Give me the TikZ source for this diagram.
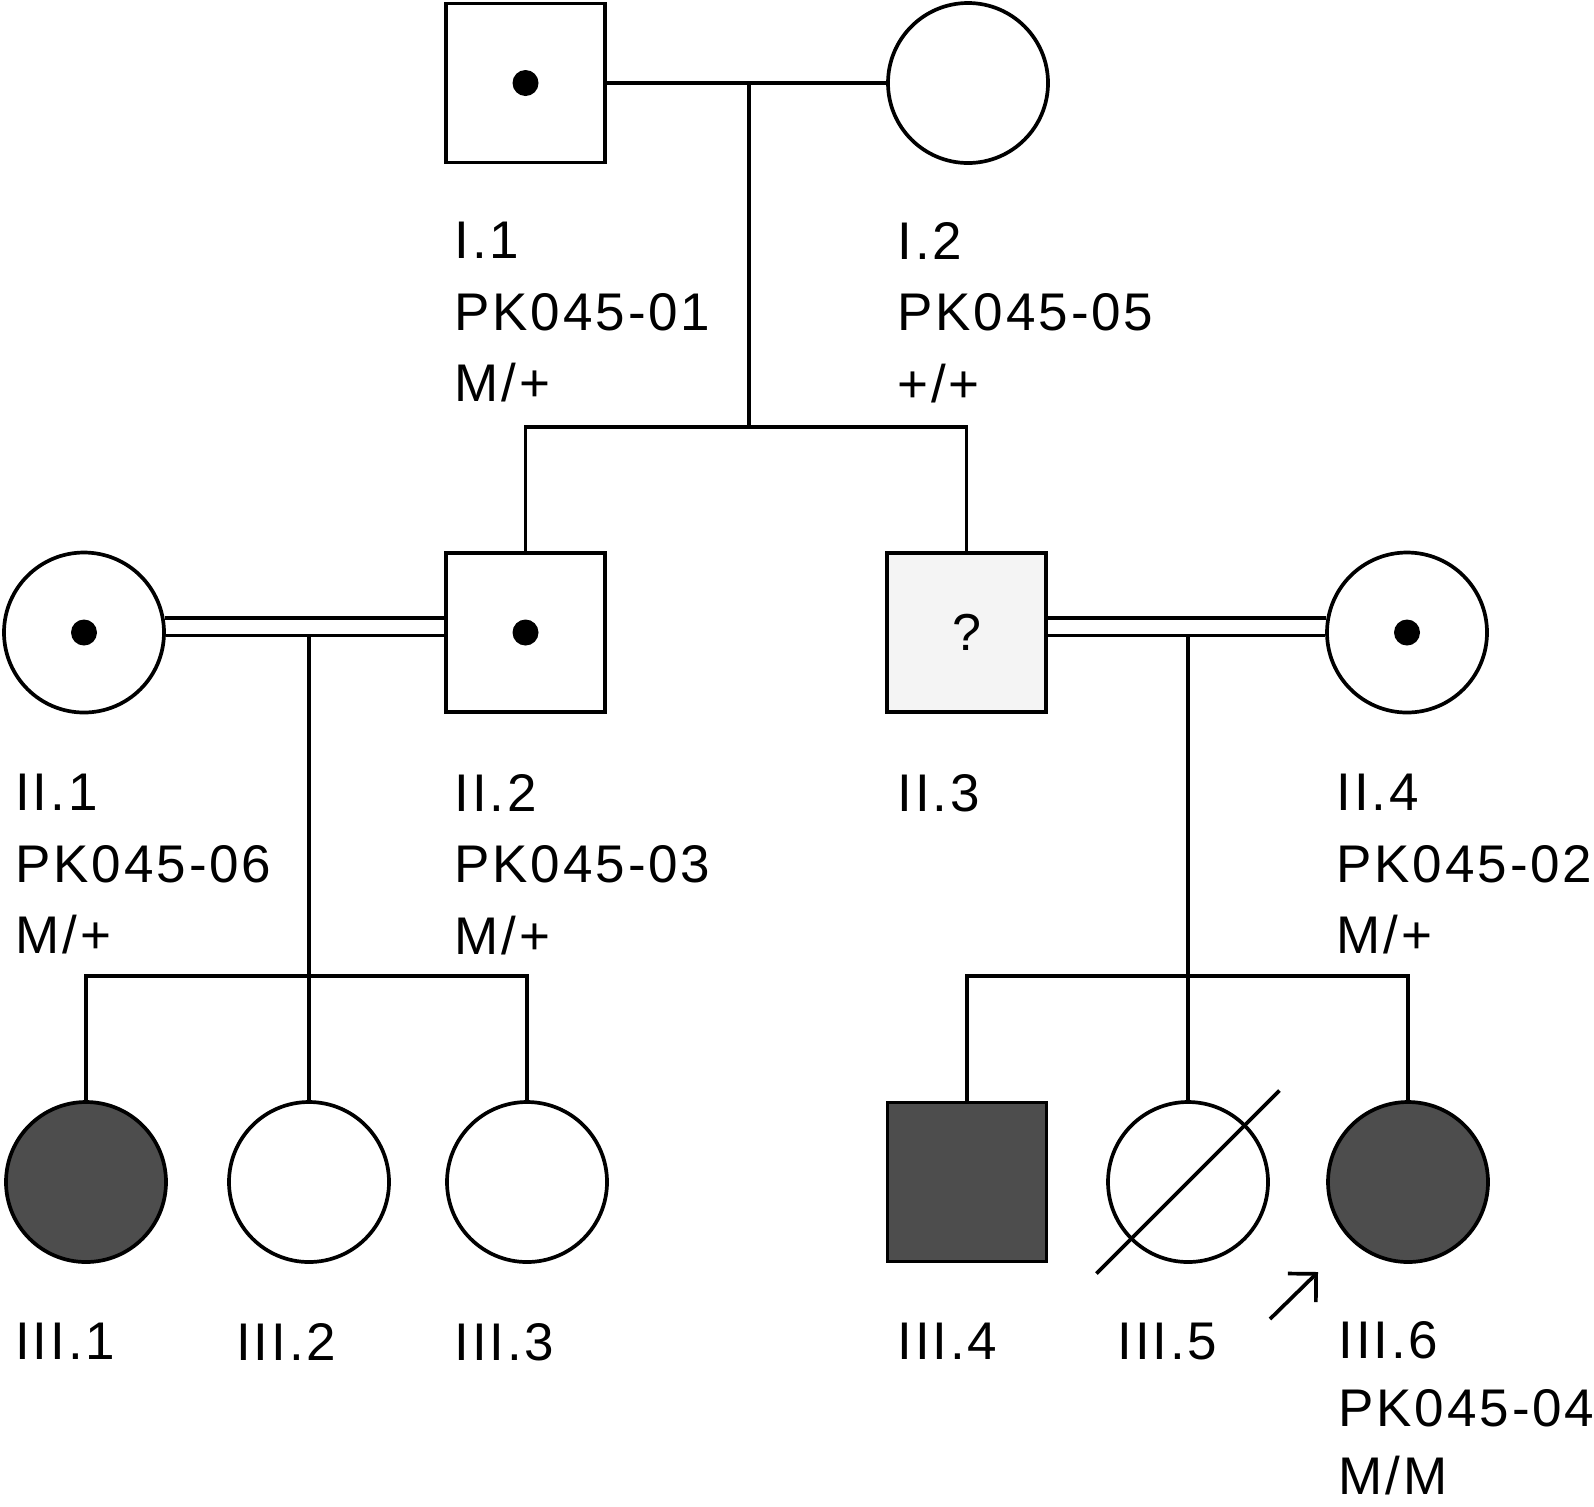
\documentclass[tikz,border=0pt]{standalone}
\usepackage{fontspec}
\setmainfont{Liberation Sans}[LetterSpace=5.5]
\usetikzlibrary{arrows.meta}
\definecolor{affected}{HTML}{4D4D4D}
\definecolor{unknownfill}{HTML}{F4F4F4}
\begin{document}
\begin{tikzpicture}[x=0.5pt,y=-0.5pt,
  conn/.style={line width=1.85pt},
  sq/.style={draw, line width=1.85pt, rectangle, minimum size=79.5pt, inner sep=0pt, fill=white},
  ci/.style={draw, line width=1.85pt, circle, minimum size=80pt, inner sep=0pt, fill=white},
  aff/.style={fill=affected},
  lab/.style={anchor=north west, inner sep=0pt, align=left, font=\fontsize{26.5}{35.75}\selectfont},
  qmark/.style={font=\fontsize{26}{30}\selectfont}]
\useasboundingbox (0,0) rectangle (1594,1506);

% generation I
\node[sq] (I1) at (525.5,83) {};
\node[ci] (I2) at (968,83) {};
% generation II
\node[ci] (II1) at (84,632.5) {};
\node[sq] (II2) at (525.5,632.5) {};
\node[sq, fill=unknownfill, qmark] (II3) at (966.5,632.5) {?};
\node[ci] (II4) at (1407,632.5) {};
% generation III
\node[ci, aff] (III1) at (86,1182) {};
\node[ci] (III2) at (309,1182) {};
\node[ci] (III3) at (527,1182) {};
\node[sq, aff] (III4) at (967,1182) {};
\node[ci] (III5) at (1188,1182) {};
\node[ci, aff] (III6) at (1408,1182) {};

% carrier dots
\foreach \n in {I1,II1,II2,II4}
  \fill (\n.center) circle[radius=6.5pt];

% junction coordinates
\coordinate (Im) at (749,83);
\coordinate (Isib) at (749,427);
\coordinate (Lm) at (309,634.5);
\coordinate (Lsib) at (309,976);
\coordinate (Rm) at (1188,634.5);
\coordinate (Rsib) at (1188,976);

% generation I connectors
\draw[conn] (I1.east) -- (I2.west);
\draw[conn] (Im) -- (Isib);
\draw[conn] (II2.north) |- (Isib) -| (II3.north);

% consanguineous unions
\draw[conn] (II1.10) -- (II2.west |- II1.10);
\draw[conn] (II1.-2) -- (II2.west |- II1.-2);
\draw[conn] (II3.east |- II4.170) -- (II4.170);
\draw[conn] (II3.east |- II4.182) -- (II4.182);

% descents
\draw[conn] (Lm) -- (III2.north);
\draw[conn] (III1.north) |- (Lsib) -| (III3.north);
\draw[conn] (Rm) -- (III5.north);
\draw[conn] (III4.north) |- (Rsib) -| (III6.north);

% deceased stroke
\draw[conn] ([shift={(-91.5,91.5)}]III5.center) -- ([shift={(91.5,-91.5)}]III5.center);

% proband arrow
\coordinate (pa) at (1270,1319);
\coordinate (pb) at (1318,1272);
\draw[conn, -{Straight Barb[length=10pt,width=20pt]}] (pa) -- (pb);

% labels
\node[lab] (lI1) at (454,222) {I.1\\PK045-01\\M/+};
\node[lab] (lI2) at (897,222) {I.2\\PK045-05\\+/+};
\node[lab] (lII1) at (15,774) {II.1\\PK045-06\\M/+};
\node[lab] (lII2) at (454,774) {II.2\\PK045-03\\M/+};
\node[lab] (lII3) at (897,774) {II.3};
\node[lab] (lII4) at (1336,774) {II.4\\PK045-02\\M/+};
\node[lab] (lIII1) at (15,1323) {III.1};
\node[lab] (lIII2) at (236,1323) {III.2};
\node[lab] (lIII3) at (454,1323) {III.3};
\node[lab] (lIII4) at (897,1323) {III.4};
\node[lab] (lIII5) at (1117,1323) {III.5};
\node[lab, font=\fontsize{26.5}{34}\selectfont] (lIII6) at (1338,1321) {III.6\\PK045-04\\M/M};
\end{tikzpicture}
\end{document}
